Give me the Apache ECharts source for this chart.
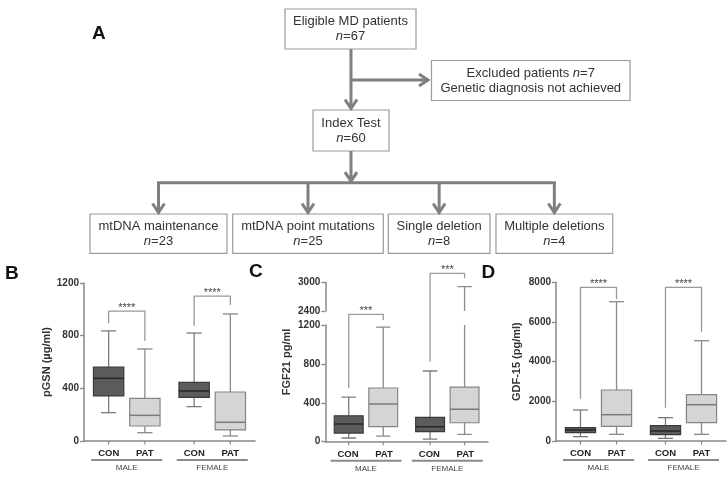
<!DOCTYPE html>
<html><head><meta charset="utf-8">
<script src="https://cdn.jsdelivr.net/npm/echarts@6/dist/echarts.min.js"></script>
<style>html,body{margin:0;padding:0;background:#fff}#c{width:728px;height:480px}</style>
</head><body><div id="c"></div>
<script>
const FONT = '"Liberation Sans", Arial, Helvetica, sans-serif';

// ---------- data ----------
const groups = ['MALE', 'FEMALE'];
const subgroups = ['CON', 'PAT'];
const panelLetters = ['A', 'B', 'C', 'D'];

// box plots: [min, Q1, median, Q3, max]
const pgsnMaleCon = [215, 342, 476, 562, 836];
const pgsnMalePat = [63, 114, 195, 324, 699];
const pgsnFemaleCon = [261, 332, 380, 446, 820];
const pgsnFemalePat = [38, 84, 142, 372, 965];

const fgf21MaleCon = [38, 89, 182, 267, 459];
const fgf21MalePat = [58, 154, 387, 552, 1179];
const fgf21FemaleCon = [27, 103, 154, 250, 727];
const fgf21FemalePat = [75, 195, 333, 562, 2909];

const gdf15MaleCon = [218, 420, 554, 672, 1562];
const gdf15MalePat = [336, 739, 1327, 2570, 7022];
const gdf15FemaleCon = [134, 319, 504, 773, 1176];
const gdf15FemalePat = [336, 924, 1831, 2335, 5057];

// significance: stars and bracket [top, left leg end, right leg end] in axis units
const pgsnStars = ['****', '****'];
const fgf21Stars = ['***', '***'];
const gdf15Stars = ['****', '****'];
const pgsnBrackets = [[987, 894, 760], [1101, 876, 1033]];
const fgf21Brackets = [[1310, 549, 1251], [1731, 822, 1680]];
const gdf15Brackets = [[7745, 2117, 7150], [7745, 1680, 5510]];

// axis ticks
const pgsnTicks = [0, 400, 800, 1200];
const fgf21LowTicks = [0, 400, 800, 1200];
const fgf21HighTicks = [2400, 3000];
const gdf15Ticks = [0, 2000, 4000, 6000, 8000];

const yNames = ['pGSN (\u00b5g/ml)', 'FGF21 pg/ml', 'GDF-15 (pg/ml)'];

// flowchart text
const flowTitles = ['Eligible MD patients', 'Index Test', 'Excluded patients', 'mtDNA maintenance', 'mtDNA point mutations', 'Single deletion', 'Multiple deletions'];
const flowCounts = [67, 60, 7, 23, 25, 8, 4];
const excludedNote = 'Genetic diagnosis not achieved';

// ---------- layout / style ----------
const OFF = 0.212, BOXW = 0.355;
const boxStyle = [
  { fill: '#5c5c5c', stroke: '#3a3a3a', median: '#262626', whisker: '#7c7c7c' },
  { fill: '#d5d5d5', stroke: '#858585', median: '#7a7a7a', whisker: '#8a8a8a' }
];
const AX = '#888';

function boxRows(a, b, c, d) { return [[0, 0, ...a], [0, 1, ...b], [1, 0, ...c], [1, 1, ...d]]; }

function renderBox(params, api) {
  const g = api.value(0), s = api.value(1);
  const v = [2, 3, 4, 5, 6].map(i => api.value(i));
  const bw = api.size([1, 0])[0];
  const cx = api.coord([g, 0])[0] + (s ? 1 : -1) * bw * OFF;
  const w = bw * BOXW, cw = w / 2;
  const Y = val => api.coord([g, val])[1];
  const st = boxStyle[s];
  const ws = { stroke: st.whisker, lineWidth: 1.3 };
  return { type: 'group', children: [
    { type: 'line', shape: { x1: cx, y1: Y(v[3]), x2: cx, y2: Y(v[4]) }, style: ws },
    { type: 'line', shape: { x1: cx, y1: Y(v[0]), x2: cx, y2: Y(v[1]) }, style: ws },
    { type: 'line', shape: { x1: cx - cw / 2, y1: Y(v[4]), x2: cx + cw / 2, y2: Y(v[4]) }, style: ws },
    { type: 'line', shape: { x1: cx - cw / 2, y1: Y(v[0]), x2: cx + cw / 2, y2: Y(v[0]) }, style: ws },
    { type: 'rect', shape: { x: cx - w / 2, y: Y(v[3]), width: w, height: Y(v[1]) - Y(v[3]) }, style: { fill: st.fill, stroke: st.stroke, lineWidth: 1.2 } },
    { type: 'line', shape: { x1: cx - w / 2, y1: Y(v[2]), x2: cx + w / 2, y2: Y(v[2]) }, style: { stroke: st.median, lineWidth: 1.5 } }
  ]};
}
function renderTick(params, api) {
  const g = api.value(0), s = api.value(1);
  const bw = api.size([1, 0])[0];
  const cx = api.coord([g, 0])[0] + (s ? 1 : -1) * bw * OFF;
  const y0 = params.coordSys.y + params.coordSys.height;
  return { type: 'line', shape: { x1: cx, y1: y0, x2: cx, y2: y0 + 3.5 }, style: { stroke: AX, lineWidth: 1.2 } };
}
function bracketRender(stars) {
  return function (params, api) {
    const g = api.value(0), top = api.value(1), le = api.value(2), re = api.value(3);
    const bw = api.size([1, 0])[0];
    const c = api.coord([g, top]);
    const xl = c[0] - bw * OFF, xr = c[0] + bw * OFF, yt = c[1];
    const yl = api.coord([g, le])[1], yr = api.coord([g, re])[1];
    return { type: 'group', children: [
      { type: 'polyline', shape: { points: [[xl, yl], [xl, yt], [xr, yt], [xr, yr]] }, style: { stroke: '#9a9a9a', lineWidth: 1.3, fill: null } },
      { type: 'text', style: { text: stars[g], x: (xl + xr) / 2, y: yt - 3, align: 'center', verticalAlign: 'middle', fontSize: 11, fontFamily: FONT, fill: '#444' } }
    ]};
  };
}

function yAxisCfg(gridIndex, ticks, extra) {
  return Object.assign({
    type: 'value', gridIndex, min: ticks[0], max: ticks[ticks.length - 1], interval: ticks[1] - ticks[0],
    axisLine: { show: true, lineStyle: { color: AX, width: 1.5 } },
    axisTick: { show: true, length: 4, lineStyle: { color: AX, width: 1.3 } },
    axisLabel: { color: '#333', fontSize: 10, fontWeight: 'bold', fontFamily: FONT, margin: 5, formatter: v => String(v) },
    splitLine: { show: false },
    nameLocation: 'middle',
    nameTextStyle: { fontSize: 11, fontWeight: 'bold', fontFamily: FONT, color: '#333' }
  }, extra || {});
}
function xAxisCfg(gridIndex, show) {
  return {
    type: 'category', gridIndex, data: groups, boundaryGap: true, show,
    axisLine: { lineStyle: { color: AX, width: 1.5 } }, axisTick: { show: false },
    splitLine: { show: false },
    axisLabel: {
      interval: 0, margin: 7,
      formatter: v => `{c|${subgroups[0]}}{s|}{c|${subgroups[1]}}\n{u|}\n{g|${v}}`,
      rich: {
        c: { fontSize: 9.5, fontWeight: 'bold', fontFamily: FONT, color: '#222', width: 26, align: 'center', lineHeight: 11 },
        s: { width: 10, lineHeight: 11 },
        u: { width: 71, height: 2, lineHeight: 2, backgroundColor: '#8a8a8a' },
        g: { fontSize: 8, fontFamily: FONT, color: '#444', lineHeight: 13.6 }
      }
    }
  };
}

function boxSeries(xi, data, clip) {
  return { type: 'custom', xAxisIndex: xi, yAxisIndex: xi, data, renderItem: renderBox, clip: !!clip, encode: { x: 0, y: [2, 3, 4, 5, 6] }, silent: true };
}
function tickSeries(xi) {
  return { type: 'custom', xAxisIndex: xi, yAxisIndex: xi, data: [[0, 0], [0, 1], [1, 0], [1, 1]], renderItem: renderTick, silent: true };
}
function bracketSeries(xi, brackets, stars) {
  return { type: 'custom', xAxisIndex: xi, yAxisIndex: xi, data: brackets.map((b, i) => [i, ...b]), renderItem: bracketRender(stars), encode: { x: 0, y: [1, 2, 3] }, silent: true, z: 5 };
}

// ---------- flowchart (layout) ----------
const LINE = '#7f7f7f';
const flowBoxes = [
  { x: 285, y: 9, w: 131, h: 40 },
  { x: 313, y: 110, w: 76, h: 41 },
  { x: 431.5, y: 60.5, w: 198.5, h: 40 },
  { x: 90, y: 214, w: 137, h: 39.3 },
  { x: 232.7, y: 214, w: 150.6, h: 39.3 },
  { x: 388.3, y: 214, w: 101.7, h: 39.3 },
  { x: 496, y: 214, w: 116.7, h: 39.3 }
];
const richN = { i: { fontStyle: 'italic', fontSize: 13, fontFamily: FONT, fill: '#333', lineHeight: 15 } };
const graphics = [];
flowBoxes.forEach((b, i) => {
  graphics.push({ type: 'rect', shape: { x: b.x, y: b.y, width: b.w, height: b.h }, style: { fill: '#fff', stroke: '#9a9a9a', lineWidth: 1.2 } });
  const txt = i === 2
    ? `${flowTitles[i]} {i|n}=${flowCounts[i]}\n${excludedNote}`
    : `${flowTitles[i]}\n{i|n}=${flowCounts[i]}`;
  graphics.push({ type: 'text', style: { text: txt, x: b.x + b.w / 2, y: b.y + b.h / 2, align: 'center', verticalAlign: 'middle', fontSize: 13, fontFamily: FONT, fill: '#333', lineHeight: 15, rich: richN } });
});
function seg(x1, y1, x2, y2) { graphics.push({ type: 'line', shape: { x1, y1, x2, y2 }, style: { stroke: LINE, lineWidth: 3 } }); }
function head(x, y, dir) {
  const pts = dir === 'down' ? [[x - 6, y - 9], [x, y], [x + 6, y - 9]] : [[x - 9, y - 6], [x, y], [x - 9, y + 6]];
  graphics.push({ type: 'polyline', shape: { points: pts }, style: { stroke: LINE, lineWidth: 3, fill: null, lineJoin: 'miter' } });
}
const mainX = flowBoxes[1].x + flowBoxes[1].w / 2;
const b0 = flowBoxes[0], bI = flowBoxes[1], bE = flowBoxes[2];
seg(mainX, b0.y + b0.h, mainX, bI.y - 2); head(mainX, bI.y - 1.5, 'down');
const exclY = bE.y + bE.h / 2 - 0.5;
seg(mainX, exclY, bE.x - 4, exclY); head(bE.x - 3.5, exclY, 'right');
const branchY = 182.7;
seg(mainX, bI.y + bI.h, mainX, branchY - 2); head(mainX, branchY - 1.5, 'down');
const leafX = flowBoxes.slice(3).map(b => b.x + b.w / 2);
seg(leafX[0] - 1.5, branchY, leafX[3] + 1.5, branchY);
leafX.forEach(x => { seg(x, branchY, x, 212); head(x, 212.5, 'down'); });

// panel letters
[[92, 24], [5, 264], [249, 262], [481.5, 263]].forEach((p, i) => {
  graphics.push({ type: 'text', style: { text: panelLetters[i], x: p[0], y: p[1], fontSize: 19, fontWeight: 'bold', fontFamily: FONT, fill: '#111', verticalAlign: 'top' } });
});

// ---------- chart ----------
const chart = echarts.init(document.getElementById('c'));
chart.setOption({
  animation: false,
  backgroundColor: '#fff',
  textStyle: { fontFamily: FONT },
  grid: [
    { left: 84, top: 283, width: 171, height: 158 },
    { left: 325.3, top: 325, width: 162.7, height: 116.7 },
    { left: 325.3, top: 282.3, width: 162.7, height: 28.7 },
    { left: 556, top: 282.3, width: 170, height: 158.7 },
    { left: 325.3, top: 282.3, width: 162.7, height: 159.4 }
  ],
  xAxis: [xAxisCfg(0, true), xAxisCfg(1, true), xAxisCfg(2, false), xAxisCfg(3, true), xAxisCfg(4, false)],
  yAxis: [
    yAxisCfg(0, pgsnTicks, { name: yNames[0], nameGap: 32 }),
    yAxisCfg(1, fgf21LowTicks),
    yAxisCfg(2, fgf21HighTicks),
    yAxisCfg(3, gdf15Ticks, { name: yNames[2], nameGap: 34 }),
    yAxisCfg(4, [0, 1], { name: yNames[1], nameGap: 33, axisLine: { show: false }, axisTick: { show: false }, axisLabel: { show: false } })
  ],
  series: [
    boxSeries(0, boxRows(pgsnMaleCon, pgsnMalePat, pgsnFemaleCon, pgsnFemalePat)),
    tickSeries(0),
    bracketSeries(0, pgsnBrackets, pgsnStars),
    boxSeries(1, boxRows(fgf21MaleCon, fgf21MalePat, fgf21FemaleCon, fgf21FemalePat), true),
    boxSeries(2, boxRows(fgf21MaleCon, fgf21MalePat, fgf21FemaleCon, fgf21FemalePat), true),
    tickSeries(1),
    bracketSeries(1, fgf21Brackets, fgf21Stars),
    boxSeries(3, boxRows(gdf15MaleCon, gdf15MalePat, gdf15FemaleCon, gdf15FemalePat)),
    tickSeries(3),
    bracketSeries(3, gdf15Brackets, gdf15Stars)
  ],
  graphic: { elements: graphics }
});
</script></body></html>
